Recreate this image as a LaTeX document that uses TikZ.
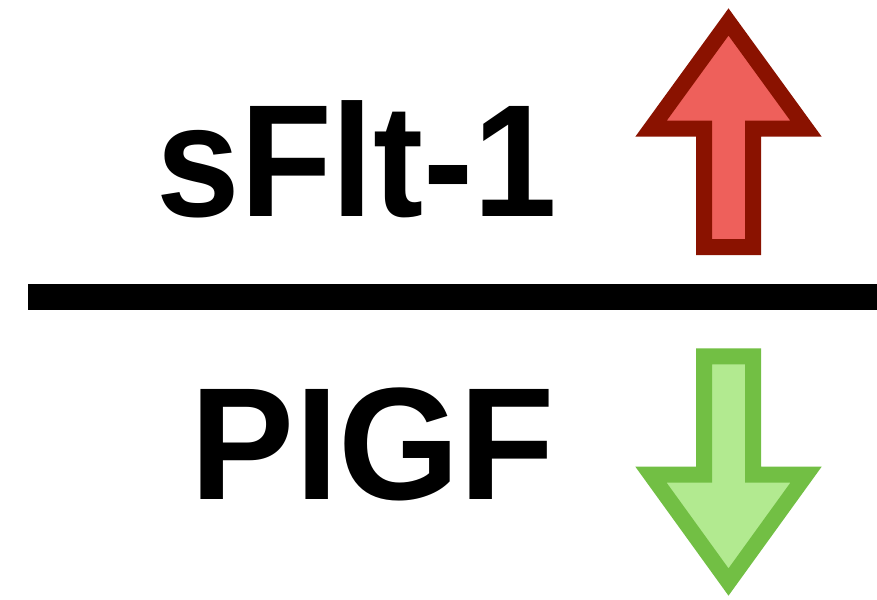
\documentclass[tikz,border=0pt]{standalone}
\usepackage{fontspec}
\setmainfont{Liberation Sans}
\begin{document}
\begin{tikzpicture}[x=1pt,y=-1pt,
  lbl/.style={font=\fontsize{160}{160}\selectfont\bfseries, inner sep=0pt, anchor=base},
  uparrow/.style={draw=upline, fill=upfill, line width=16pt, line join=miter, miter limit=10},
  downarrow/.style={draw=downline, fill=downfill, line width=16pt, line join=miter, miter limit=10}]
\definecolor{upfill}{RGB}{238,96,91}
\definecolor{upline}{RGB}{138,18,0}
\definecolor{downfill}{RGB}{178,234,144}
\definecolor{downline}{RGB}{114,191,68}
\useasboundingbox (0,0) rectangle (877,599);
\node[lbl, xscale=0.94] (top) at (357,216.7) {sFlt-1};
\node[lbl, xscale=0.975] (bot) at (373,499.3) {PIGF};
\fill[black] (28,283.5) rectangle (877,310);
\draw[uparrow] (728.5,22) -- (651,128.7) -- (704,128.7) -- (704,247) -- (753,247) -- (753,128.7) -- (806,128.7) -- cycle;
\draw[downarrow] (728.5,582) -- (651,474.7) -- (704,474.7) -- (704,356.3) -- (753,356.3) -- (753,474.7) -- (806,474.7) -- cycle;
\end{tikzpicture}
\end{document}
